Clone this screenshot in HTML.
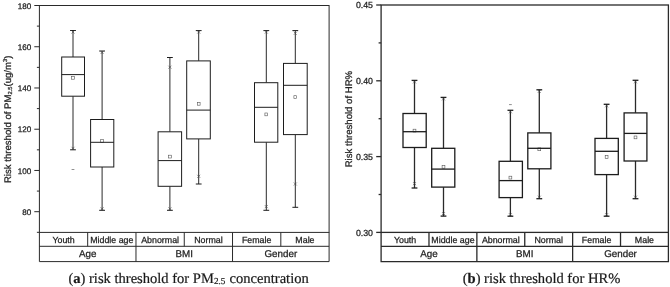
<!DOCTYPE html>
<html><head><meta charset="utf-8"><title>Figure</title>
<style>
html,body{margin:0;padding:0;background:#fff;}
body{width:670px;height:287px;overflow:hidden;position:relative;font-family:"Liberation Sans",sans-serif;}
svg{position:absolute;left:0;top:0;display:block;}
body{filter:grayscale(1) blur(0.35px);}
svg text{font-family:"Liberation Sans",sans-serif;text-rendering:geometricPrecision;stroke:#222;stroke-width:0.25;}
svg .b{stroke:#1c1c1c;}
svg .m{fill:#fff;stroke-width:0.6;stroke:#555;}
svg .x{stroke-width:0.6;stroke:#444;}
.cap{-webkit-text-stroke:0.2px #1a1a1a;text-rendering:geometricPrecision;position:absolute;font-family:"Liberation Serif",serif;font-size:14.55px;color:#1a1a1a;white-space:nowrap;line-height:1;}
.cap sub{font-size:0.63em;margin-right:0.6px;vertical-align:baseline;position:relative;top:0.18em;}
</style></head><body>
<svg width="670" height="287" viewBox="0 0 670 287">
<g stroke="#2a2a2a" stroke-width="1.0" fill="none">
<rect x="39.4" y="5.5" width="289.70" height="226.90"/>
<line x1="34.3" y1="5.5" x2="39.4" y2="5.5"/>
<line x1="34.3" y1="46.74" x2="39.4" y2="46.74"/>
<line x1="34.3" y1="87.98" x2="39.4" y2="87.98"/>
<line x1="34.3" y1="129.22" x2="39.4" y2="129.22"/>
<line x1="34.3" y1="170.46" x2="39.4" y2="170.46"/>
<line x1="34.3" y1="211.7" x2="39.4" y2="211.7"/>
<line x1="36.9" y1="26.12" x2="39.4" y2="26.12"/>
<line x1="36.9" y1="67.36" x2="39.4" y2="67.36"/>
<line x1="36.9" y1="108.6" x2="39.4" y2="108.6"/>
<line x1="36.9" y1="149.84" x2="39.4" y2="149.84"/>
<line x1="36.9" y1="191.08" x2="39.4" y2="191.08"/>
<line x1="36.9" y1="232.32" x2="39.4" y2="232.32"/>
<path d="M39.4 232.4V261.6H329.1V232.4M39.4 246.3H329.1"/>
<line x1="87.68" y1="232.4" x2="87.68" y2="246.3"/>
<line x1="135.97" y1="232.4" x2="135.97" y2="261.6"/>
<line x1="184.25" y1="232.4" x2="184.25" y2="246.3"/>
<line x1="232.53" y1="232.4" x2="232.53" y2="261.6"/>
<line x1="280.82" y1="232.4" x2="280.82" y2="246.3"/>
<line x1="73.0" y1="30.5" x2="73.0" y2="57.0"/>
<line x1="73.0" y1="96.2" x2="73.0" y2="149.8"/>
<line class="b" x1="70.1" y1="30.5" x2="75.9" y2="30.5"/>
<line class="b" x1="70.1" y1="149.8" x2="75.9" y2="149.8"/>
<rect class="b" x="61.7" y="57.0" width="22.80" height="39.20" fill="#fff"/>
<rect class="m" x="71.60" y="76.40" width="2.8" height="2.8"/>
<line class="b" x1="61.7" y1="74.6" x2="84.5" y2="74.6"/>
<path class="x" d="M71.5 30.5L74.5 33.5M71.5 33.5L74.5 30.5"/>
<path class="x" d="M71.5 146.8L74.5 149.8M71.5 149.8L74.5 146.8"/>
<line class="x" x1="71.6" y1="169.5" x2="74.4" y2="169.5"/>
<line x1="102.1" y1="51.0" x2="102.1" y2="119.5"/>
<line x1="102.1" y1="167.0" x2="102.1" y2="210.3"/>
<line class="b" x1="99.19999999999999" y1="51.0" x2="105.0" y2="51.0"/>
<line class="b" x1="99.19999999999999" y1="210.3" x2="105.0" y2="210.3"/>
<rect class="b" x="90.6" y="119.5" width="23.20" height="47.50" fill="#fff"/>
<rect class="m" x="100.70" y="139.60" width="2.8" height="2.8"/>
<line class="b" x1="90.6" y1="142.3" x2="113.8" y2="142.3"/>
<path class="x" d="M100.6 51.0L103.6 54.0M100.6 54.0L103.6 51.0"/>
<path class="x" d="M100.6 207.3L103.6 210.3M100.6 210.3L103.6 207.3"/>
<line x1="169.9" y1="57.5" x2="169.9" y2="131.8"/>
<line x1="169.9" y1="186.3" x2="169.9" y2="210.3"/>
<line class="b" x1="167.0" y1="57.5" x2="172.8" y2="57.5"/>
<line class="b" x1="167.0" y1="210.3" x2="172.8" y2="210.3"/>
<rect class="b" x="158.1" y="131.8" width="23.50" height="54.50" fill="#fff"/>
<rect class="m" x="168.50" y="155.20" width="2.8" height="2.8"/>
<line class="b" x1="158.1" y1="160.6" x2="181.6" y2="160.6"/>
<path class="x" d="M168.4 65.7L171.4 68.7M168.4 68.7L171.4 65.7"/>
<path class="x" d="M168.4 207.3L171.4 210.3M168.4 210.3L171.4 207.3"/>
<line x1="198.7" y1="30.6" x2="198.7" y2="60.9"/>
<line x1="198.7" y1="138.9" x2="198.7" y2="184.0"/>
<line class="b" x1="195.79999999999998" y1="30.6" x2="201.6" y2="30.6"/>
<line class="b" x1="195.79999999999998" y1="184.0" x2="201.6" y2="184.0"/>
<rect class="b" x="186.7" y="60.9" width="23.60" height="78.00" fill="#fff"/>
<rect class="m" x="197.30" y="102.40" width="2.8" height="2.8"/>
<line class="b" x1="186.7" y1="110.1" x2="210.3" y2="110.1"/>
<path class="x" d="M197.2 30.6L200.2 33.6M197.2 33.6L200.2 30.6"/>
<path class="x" d="M197.2 174.8L200.2 177.8M197.2 177.8L200.2 174.8"/>
<line x1="266.3" y1="30.6" x2="266.3" y2="82.7"/>
<line x1="266.3" y1="142.2" x2="266.3" y2="210.3"/>
<line class="b" x1="263.40000000000003" y1="30.6" x2="269.2" y2="30.6"/>
<line class="b" x1="263.40000000000003" y1="210.3" x2="269.2" y2="210.3"/>
<rect class="b" x="254.5" y="82.7" width="23.30" height="59.50" fill="#fff"/>
<rect class="m" x="264.90" y="113.00" width="2.8" height="2.8"/>
<line class="b" x1="254.5" y1="107.3" x2="277.8" y2="107.3"/>
<path class="x" d="M264.8 30.6L267.8 33.6M264.8 33.6L267.8 30.6"/>
<path class="x" d="M264.8 205.1L267.8 208.1M264.8 208.1L267.8 205.1"/>
<line x1="295.3" y1="30.6" x2="295.3" y2="63.4"/>
<line x1="295.3" y1="134.6" x2="295.3" y2="207.3"/>
<line class="b" x1="292.40000000000003" y1="30.6" x2="298.2" y2="30.6"/>
<line class="b" x1="292.40000000000003" y1="207.3" x2="298.2" y2="207.3"/>
<rect class="b" x="283.5" y="63.4" width="23.70" height="71.20" fill="#fff"/>
<rect class="m" x="293.90" y="95.70" width="2.8" height="2.8"/>
<line class="b" x1="283.5" y1="85.3" x2="307.2" y2="85.3"/>
<path class="x" d="M293.8 31.799999999999997L296.8 34.8M293.8 34.8L296.8 31.799999999999997"/>
<path class="x" d="M293.8 182.5L296.8 185.5M293.8 185.5L296.8 182.5"/>
</g>
<g font-size="8.1" text-anchor="end" fill="#222">
<text x="31.2" y="8.62">180</text>
<text x="31.2" y="49.86">160</text>
<text x="31.2" y="91.10">140</text>
<text x="31.2" y="132.34">120</text>
<text x="31.2" y="173.58">100</text>
<text x="31.2" y="214.82">80</text>
</g>
<g font-size="8.85" text-anchor="middle" fill="#222">
<text x="63.54" y="242.85">Youth</text>
<text x="111.83" y="242.85">Middle age</text>
<text x="160.11" y="242.85">Abnormal</text>
<text x="208.39" y="242.85">Normal</text>
<text x="256.68" y="242.85">Female</text>
<text x="304.96" y="242.85">Male</text>
</g>
<g font-size="9.8" text-anchor="middle" fill="#222">
<text x="87.68" y="257.1">Age</text>
<text x="184.25" y="257.1">BMI</text>
<text x="280.82" y="257.1">Gender</text>
</g>
<g stroke="#2a2a2a" stroke-width="1.3" fill="none">
<rect x="381.1" y="5.0" width="287.30" height="227.40"/>
<line x1="376.20000000000005" y1="5.0" x2="381.1" y2="5.0"/>
<line x1="376.20000000000005" y1="80.8" x2="381.1" y2="80.8"/>
<line x1="376.20000000000005" y1="156.6" x2="381.1" y2="156.6"/>
<line x1="376.20000000000005" y1="232.4" x2="381.1" y2="232.4"/>
<line x1="378.6" y1="42.9" x2="381.1" y2="42.9"/>
<line x1="378.6" y1="118.7" x2="381.1" y2="118.7"/>
<line x1="378.6" y1="194.5" x2="381.1" y2="194.5"/>
<path d="M381.1 232.4V261.6H668.4V232.4M381.1 246.3H668.4"/>
<line x1="428.98" y1="232.4" x2="428.98" y2="246.3"/>
<line x1="476.87" y1="232.4" x2="476.87" y2="261.6"/>
<line x1="524.75" y1="232.4" x2="524.75" y2="246.3"/>
<line x1="572.63" y1="232.4" x2="572.63" y2="261.6"/>
<line x1="620.52" y1="232.4" x2="620.52" y2="246.3"/>
<line x1="414.5" y1="80.4" x2="414.5" y2="113.5"/>
<line x1="414.5" y1="147.5" x2="414.5" y2="188.0"/>
<line class="b" x1="411.6" y1="80.4" x2="417.4" y2="80.4"/>
<line class="b" x1="411.6" y1="188.0" x2="417.4" y2="188.0"/>
<rect class="b" x="403.0" y="113.5" width="23.20" height="34.00" fill="#fff"/>
<rect class="m" x="413.10" y="129.20" width="2.8" height="2.8"/>
<line class="b" x1="403.0" y1="131.7" x2="426.2" y2="131.7"/>
<path class="x" d="M413.0 80.4L416.0 83.4M413.0 83.4L416.0 80.4"/>
<path class="x" d="M413.0 182.1L416.0 185.1M413.0 185.1L416.0 182.1"/>
<line x1="443.5" y1="97.4" x2="443.5" y2="148.3"/>
<line x1="443.5" y1="187.1" x2="443.5" y2="216.1"/>
<line class="b" x1="440.6" y1="97.4" x2="446.4" y2="97.4"/>
<line class="b" x1="440.6" y1="216.1" x2="446.4" y2="216.1"/>
<rect class="b" x="431.7" y="148.3" width="23.10" height="38.80" fill="#fff"/>
<rect class="m" x="442.10" y="165.40" width="2.8" height="2.8"/>
<line class="b" x1="431.7" y1="169.1" x2="454.8" y2="169.1"/>
<path class="x" d="M442.0 97.4L445.0 100.4M442.0 100.4L445.0 97.4"/>
<path class="x" d="M442.0 212.1L445.0 215.1M442.0 215.1L445.0 212.1"/>
<line x1="510.4" y1="110.3" x2="510.4" y2="161.3"/>
<line x1="510.4" y1="197.6" x2="510.4" y2="216.2"/>
<line class="b" x1="507.5" y1="110.3" x2="513.3" y2="110.3"/>
<line class="b" x1="507.5" y1="216.2" x2="513.3" y2="216.2"/>
<rect class="b" x="499.1" y="161.3" width="23.30" height="36.30" fill="#fff"/>
<rect class="m" x="509.00" y="176.20" width="2.8" height="2.8"/>
<line class="b" x1="499.1" y1="180.6" x2="522.4" y2="180.6"/>
<path class="x" d="M508.9 110.3L511.9 113.3M508.9 113.3L511.9 110.3"/>
<path class="x" d="M508.9 213.2L511.9 216.2M508.9 216.2L511.9 213.2"/>
<line class="x" x1="509.0" y1="104.6" x2="511.79999999999995" y2="104.6"/>
<line x1="539.3" y1="89.8" x2="539.3" y2="132.9"/>
<line x1="539.3" y1="168.8" x2="539.3" y2="198.7"/>
<line class="b" x1="536.4" y1="89.8" x2="542.1999999999999" y2="89.8"/>
<line class="b" x1="536.4" y1="198.7" x2="542.1999999999999" y2="198.7"/>
<rect class="b" x="527.8" y="132.9" width="23.10" height="35.90" fill="#fff"/>
<rect class="m" x="537.90" y="147.90" width="2.8" height="2.8"/>
<line class="b" x1="527.8" y1="148.3" x2="550.9" y2="148.3"/>
<path class="x" d="M537.8 89.8L540.8 92.8M537.8 92.8L540.8 89.8"/>
<path class="x" d="M537.8 195.7L540.8 198.7M537.8 198.7L540.8 195.7"/>
<line x1="606.6" y1="104.3" x2="606.6" y2="138.4"/>
<line x1="606.6" y1="174.6" x2="606.6" y2="216.2"/>
<line class="b" x1="603.7" y1="104.3" x2="609.5" y2="104.3"/>
<line class="b" x1="603.7" y1="216.2" x2="609.5" y2="216.2"/>
<rect class="b" x="595.0" y="138.4" width="23.30" height="36.20" fill="#fff"/>
<rect class="m" x="605.20" y="155.60" width="2.8" height="2.8"/>
<line class="b" x1="595.0" y1="151.3" x2="618.3" y2="151.3"/>
<path class="x" d="M605.1 104.3L608.1 107.3M605.1 107.3L608.1 104.3"/>
<path class="x" d="M605.1 213.2L608.1 216.2M605.1 216.2L608.1 213.2"/>
<line x1="635.5" y1="80.3" x2="635.5" y2="112.9"/>
<line x1="635.5" y1="161.0" x2="635.5" y2="198.7"/>
<line class="b" x1="632.6" y1="80.3" x2="638.4" y2="80.3"/>
<line class="b" x1="632.6" y1="198.7" x2="638.4" y2="198.7"/>
<rect class="b" x="624.1" y="112.9" width="22.80" height="48.10" fill="#fff"/>
<rect class="m" x="634.10" y="136.00" width="2.8" height="2.8"/>
<line class="b" x1="624.1" y1="133.4" x2="646.9" y2="133.4"/>
<path class="x" d="M634.0 80.3L637.0 83.3M634.0 83.3L637.0 80.3"/>
<path class="x" d="M634.0 195.7L637.0 198.7M634.0 198.7L637.0 195.7"/>
</g>
<g font-size="8.8" text-anchor="end" fill="#222">
<text x="373.0" y="8.37">0.45</text>
<text x="373.0" y="84.17">0.40</text>
<text x="373.0" y="159.97">0.35</text>
<text x="373.0" y="235.77">0.30</text>
</g>
<g font-size="8.85" text-anchor="middle" fill="#222">
<text x="405.04" y="242.85">Youth</text>
<text x="452.93" y="242.85">Middle age</text>
<text x="500.81" y="242.85">Abnormal</text>
<text x="548.69" y="242.85">Normal</text>
<text x="596.58" y="242.85">Female</text>
<text x="644.46" y="242.85">Male</text>
</g>
<g font-size="9.8" text-anchor="middle" fill="#222">
<text x="428.98" y="257.1">Age</text>
<text x="524.75" y="257.1">BMI</text>
<text x="620.52" y="257.1">Gender</text>
</g>
<g font-size="9.6" fill="#222" text-anchor="middle">
<text transform="translate(10.6,119.3) rotate(-90)">Risk threshold of PM<tspan font-size="5.8" dy="1.8">2.5</tspan><tspan dy="-1.8">(ug/m</tspan><tspan font-size="5.8" dy="-3.6">3</tspan><tspan dy="3.6">)</tspan></text>
<text transform="translate(352.4,119.1) rotate(-90)">Risk threshold of HR%</text>
</g>
</svg>
<div class="cap" id="capa" style="left:68.4px;top:271.65px;">(<b>a</b>) risk threshold for PM<sub>2.5</sub> concentration</div>
<div class="cap" id="capb" style="left:462.7px;top:271.65px;">(<b>b</b>) risk threshold for HR%</div>
</body></html>
